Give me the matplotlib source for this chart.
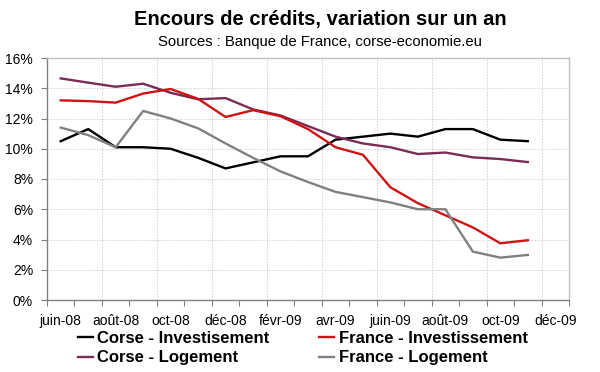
import matplotlib
matplotlib.use("Agg")
import matplotlib.pyplot as plt
import numpy as np
from matplotlib.ticker import FixedLocator, FuncFormatter
import matplotlib.transforms as mtransforms

plt.rcParams['font.family'] = ['Liberation Sans', 'DejaVu Sans']

months = ["juin-08", "juil-08", "août-08", "sept-08", "oct-08", "nov-08", "déc-08",
          "janv-09", "févr-09", "mars-09", "avr-09", "mai-09", "juin-09", "juil-09",
          "août-09", "sept-09", "oct-09", "nov-09", "déc-09"]
tick_labels = ["juin-08", "août-08", "oct-08", "déc-08", "févr-09", "avr-09",
               "juin-09", "août-09", "oct-09", "déc-09"]

corse_invest = [10.5, 11.3, 10.1, 10.1, 10.0, 9.4, 8.7, 9.1, 9.5, 9.5,
                10.6, 10.8, 11.0, 10.8, 11.3, 11.3, 10.6, 10.5]
france_invest = [13.2, 13.15, 13.05, 13.65, 13.95, 13.3, 12.1, 12.55, 12.15, 11.3,
                 10.1, 9.6, 7.45, 6.4, 5.6, 4.8, 3.75, 3.95]
corse_logement = [14.65, 14.37, 14.1, 14.3, 13.7, 13.27, 13.35, 12.6, 12.2, 11.5,
                  10.8, 10.35, 10.1, 9.65, 9.75, 9.43, 9.32, 9.12]
france_logement = [11.4, 10.9, 10.1, 12.5, 12.0, 11.35, 10.35, 9.4, 8.5, 7.8,
                   7.15, 6.8, 6.45, 6.0, 6.0, 3.2, 2.8, 2.98]

labels = ["Corse - Investisement", "Corse - Logement",
          "France - Investissement", "France - Logement"]
colors = ["#000000", "#7b2c55", "#cc1414", "#808080"]

fig = plt.figure(figsize=(6.0, 3.72), dpi=100)
ax = fig.add_axes([47/600, 1-300/372, (569-47)/600, (300-58)/372])

x = np.arange(len(corse_invest))
series = [corse_invest, corse_logement, france_invest, france_logement]
handles = []
for s, c, l in zip(series, colors, labels):
    h, = ax.plot(x, s, color=c, lw=1.7, label=l, solid_joinstyle='round')
    handles.append(h)

ax.set_xlim(-0.5, len(months) - 0.5)
ax.set_ylim(0, 16)

ax.yaxis.set_major_locator(FixedLocator(np.arange(0, 17, 2)))
ax.yaxis.set_major_formatter(FuncFormatter(lambda v, p: f"{v:.0f}%"))
ax.tick_params(axis='y', labelsize=10, length=4, width=0.8, color='#808080', pad=6)

major = np.arange(-0.5, len(months), 2)
minor = np.arange(0.5, len(months), 2)
ax.xaxis.set_major_locator(FixedLocator(major))
ax.xaxis.set_minor_locator(FixedLocator(minor))
ax.set_xticklabels([])
ax.tick_params(axis='x', which='both', length=4, width=0.8, color='#808080')

label_pos = [months.index(t) for t in tick_labels]
trans = mtransforms.blended_transform_factory(ax.transData, ax.transAxes)
for p, t in zip(label_pos, tick_labels):
    ax.text(p, -0.085, t, transform=trans, ha='center', va='center', fontsize=10)

ax.grid(True, which='major', color='#d0d0d0', linestyle=(0, (1.5, 1.5)), linewidth=0.7)
ax.set_axisbelow(True)
for side in ['left', 'bottom']:
    ax.spines[side].set_color('#808080')
    ax.spines[side].set_linewidth(1.0)
for side in ['top', 'right']:
    ax.spines[side].set_color('#c0c0c0')
    ax.spines[side].set_linewidth(1.0)

fig.text(320/600, 1-19/372, "Encours de crédits, variation sur un an",
         ha='center', va='center', fontsize=14.5, fontweight='bold')
fig.text(320/600, 1-42/372, "Sources : Banque de France, corse-economie.eu",
         ha='center', va='center', fontsize=10.75)

fig.legend(handles=handles, labels=labels, ncol=2, loc='center left',
           bbox_to_anchor=(78/600, 1-348/372), frameon=False,
           prop={'weight': 'bold', 'size': 12}, handlelength=0.9,
           handletextpad=0.25, columnspacing=3.0, labelspacing=0.28,
           borderpad=0, borderaxespad=0)

fig.savefig("out.png", dpi=100)
